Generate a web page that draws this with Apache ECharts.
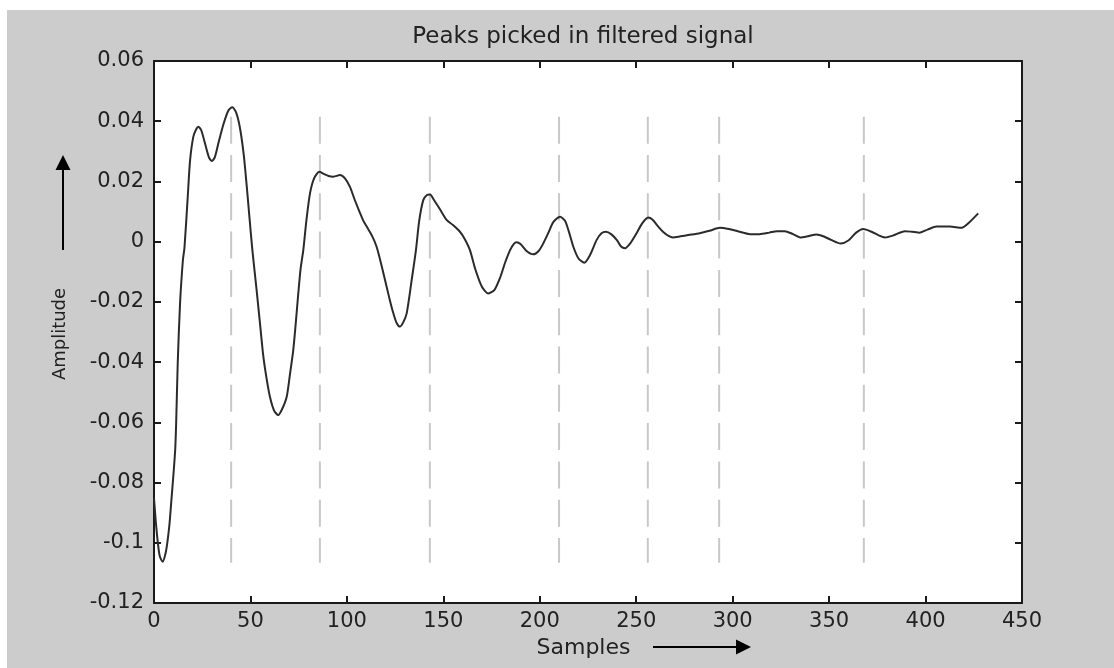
<!DOCTYPE html>
<html>
<head>
<meta charset="utf-8">
<script src="https://cdn.jsdelivr.net/npm/echarts@6/dist/echarts.min.js"></script>
<style>
  html, body { margin: 0; padding: 0; background: #ffffff; }
  #chart { position: absolute; left: 7px; top: 10px; width: 1107px; height: 658px; }
</style>
</head>
<body>
<div id="chart"></div>
<script>
// ---- data ----
const titleText = 'Peaks picked in filtered signal';
const xName = 'Samples';
const yName = 'Amplitude';

const sampleX = [0, 1, 2, 3, 4.5, 6, 7, 8, 9, 10, 11, 11.5, 12.3, 13.5, 15, 15.8, 17.5, 18.7, 20.4, 22, 23, 24.5, 26.5, 28.5, 30, 31.5, 33.5, 36, 38.5, 40.6, 42.5, 44.5, 46.5, 48.1, 49.5, 51, 53.2, 55, 56.7, 58.5, 60.1, 62.2, 64.4, 66.5, 68.8, 70.5, 72.2, 73.5, 74.8, 76, 77.4, 79, 80.9, 83, 85.7, 88, 90.5, 93, 96.4, 99, 101.6, 104, 106.5, 108.5, 110.3, 113, 115.4, 118, 120.6, 122.5, 124.1, 125.8, 127.5, 129.2, 131, 133.6, 135.8, 137.5, 139.6, 141.5, 143.1, 145, 148, 151.7, 155, 158.6, 161, 163.8, 166.5, 170, 173.3, 176.5, 179.4, 182, 184.6, 186.5, 188, 190, 193, 196.6, 199.5, 201.8, 204.5, 207, 210.5, 213, 215, 217.4, 220, 223.1, 226, 229.5, 232, 234.3, 237, 240, 242, 244.2, 247, 250.2, 253, 256.2, 258.5, 261.4, 264, 267, 269, 273, 277, 283, 288, 293.4, 298, 303, 309, 314, 319, 323, 327, 331, 335, 339, 343.5, 347, 351, 356, 360, 364, 367.7, 372, 376, 379, 383, 389.3, 393, 397, 401, 405.7, 412.6, 418.7, 422, 427.3];
const amplitude = [-0.0852, -0.0935, -0.1000, -0.1045, -0.1063, -0.1035, -0.0995, -0.0940, -0.0860, -0.0780, -0.0690, -0.0600, -0.0404, -0.0205, -0.0060, -0.0020, 0.0150, 0.0270, 0.0349, 0.0375, 0.0382, 0.0370, 0.0325, 0.0280, 0.0268, 0.0280, 0.0330, 0.0390, 0.0435, 0.0446, 0.0430, 0.0380, 0.0290, 0.0183, 0.0080, -0.0028, -0.0161, -0.0275, -0.0382, -0.0460, -0.0515, -0.0560, -0.0576, -0.0555, -0.0515, -0.0440, -0.0360, -0.0270, -0.0172, -0.0090, -0.0028, 0.0070, 0.0161, 0.0210, 0.0232, 0.0225, 0.0218, 0.0216, 0.0221, 0.0210, 0.0182, 0.0140, 0.0100, 0.0070, 0.0050, 0.0020, -0.0017, -0.0080, -0.0150, -0.0200, -0.0238, -0.0270, -0.0282, -0.0268, -0.0238, -0.0127, -0.0028, 0.0070, 0.0138, 0.0155, 0.0157, 0.0140, 0.0110, 0.0072, 0.0055, 0.0033, 0.0010, -0.0028, -0.0090, -0.0150, -0.0172, -0.0160, -0.0120, -0.0070, -0.0028, -0.0008, -0.0002, -0.0008, -0.0030, -0.0042, -0.0030, -0.0006, 0.0030, 0.0065, 0.0083, 0.0070, 0.0035, -0.0017, -0.0055, -0.0070, -0.0045, 0.0006, 0.0028, 0.0033, 0.0025, 0.0005, -0.0015, -0.0022, -0.0005, 0.0028, 0.0060, 0.0080, 0.0073, 0.0050, 0.0032, 0.0018, 0.0014, 0.0018, 0.0022, 0.0028, 0.0036, 0.0046, 0.0042, 0.0034, 0.0025, 0.0025, 0.0030, 0.0035, 0.0035, 0.0026, 0.0014, 0.0018, 0.0024, 0.0018, 0.0006, -0.0006, 0.0004, 0.0030, 0.0042, 0.0033, 0.0020, 0.0014, 0.0020, 0.0035, 0.0033, 0.0030, 0.0040, 0.0050, 0.0050, 0.0046, 0.0060, 0.0094];

const peakX = [40, 86, 143, 210, 256, 293, 368];
const stemTop = 0.0415;
const stemBottom = -0.1066;

const xTicks = [0, 50, 100, 150, 200, 250, 300, 350, 400, 450];
const yTicks = [-0.12, -0.1, -0.08, -0.06, -0.04, -0.02, 0, 0.02, 0.04, 0.06];

// ---- chart ----
const FONT = 'DejaVu Sans';
const TXT = '#222222';
const AX = '#1a1a1a';

const chart = echarts.init(document.getElementById('chart'), null, { renderer: 'canvas' });

const signal = sampleX.map((x, i) => [x, amplitude[i]]);

const stemSeries = peakX.map(px => ({
  type: 'line',
  xAxisIndex: 0, yAxisIndex: 0,
  data: [[px, stemTop], [px, stemBottom]],
  symbol: 'none',
  silent: true,
  z: 2,
  lineStyle: { color: '#c8c8c8', width: 2, type: [27, 11.3] }
}));

function axisCommon(showLabel, fmt) {
  return {
    axisLine: { show: true, onZero: false, lineStyle: { color: AX, width: 2 } },
    axisTick: { show: true, inside: true, length: 7, lineStyle: { color: AX, width: 2 } },
    splitLine: { show: false },
    axisLabel: showLabel ? {
      show: true, color: TXT, fontFamily: FONT, fontSize: 21, formatter: fmt
    } : { show: false }
  };
}

const option = {
  backgroundColor: '#cccccc',
  animation: false,
  grid: {
    left: 147, top: 51, width: 868, height: 542,
    show: true, backgroundColor: '#ffffff', borderWidth: 0
  },
  xAxis: [
    Object.assign({
      type: 'value', min: xTicks[0], max: xTicks[xTicks.length - 1], interval: 50,
      position: 'bottom'
    }, axisCommon(true, v => String(v)), {
      axisLabel: { show: true, color: TXT, fontFamily: FONT, fontSize: 21, margin: 8, formatter: v => String(v) }
    }),
    Object.assign({
      type: 'value', min: xTicks[0], max: xTicks[xTicks.length - 1], interval: 50,
      position: 'top'
    }, axisCommon(false))
  ],
  yAxis: [
    Object.assign({
      type: 'value', min: yTicks[0], max: yTicks[yTicks.length - 1], interval: 0.02,
      position: 'left'
    }, axisCommon(true), {
      axisLabel: { show: true, color: TXT, fontFamily: FONT, fontSize: 21, margin: 10,
        formatter: v => String(+(+v).toFixed(2)) }
    }),
    Object.assign({
      type: 'value', min: yTicks[0], max: yTicks[yTicks.length - 1], interval: 0.02,
      position: 'right'
    }, axisCommon(false))
  ],
  series: stemSeries.concat([{
    type: 'line',
    xAxisIndex: 0, yAxisIndex: 0,
    data: signal,
    symbol: 'none',
    smooth: 0.25,
    z: 3,
    lineStyle: { color: '#2b2b2b', width: 2 }
  }]),
  graphic: [
    { type: 'text', left: 'auto', x: 576, y: 27, style: {
      text: titleText, x: 0, y: 0, textAlign: 'center', textVerticalAlign: 'middle',
      fill: TXT, font: '23px "' + FONT + '"' } },
    { type: 'text', x: 576.5, y: 638, style: {
      text: xName, textAlign: 'center', textVerticalAlign: 'middle',
      fill: TXT, font: '22px "' + FONT + '"' } },
    { type: 'line', shape: { x1: 646, y1: 637, x2: 731, y2: 637 },
      style: { stroke: '#000', lineWidth: 2 } },
    { type: 'polygon', shape: { points: [[729, 629.5], [744, 637], [729, 644.5]] },
      style: { fill: '#000' } },
    { type: 'text', x: 53, y: 324, rotation: Math.PI / 2, style: {
      text: yName, textAlign: 'center', textVerticalAlign: 'middle',
      fill: TXT, font: '18px "' + FONT + '"' } },
    { type: 'line', shape: { x1: 56, y1: 240, x2: 56, y2: 158 },
      style: { stroke: '#000', lineWidth: 2 } },
    { type: 'polygon', shape: { points: [[48.5, 160], [56, 145], [63.5, 160]] },
      style: { fill: '#000' } }
  ]
};

chart.setOption(option);
</script>
</body>
</html>
